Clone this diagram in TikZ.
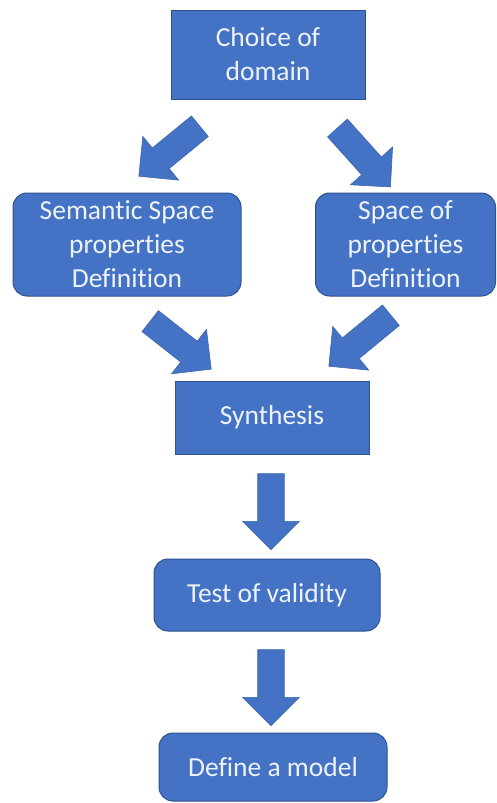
\documentclass[tikz,border=0pt]{standalone}
\usepackage{fontspec}
\setmainfont{Carlito}[Ligatures=NoCommon]
\usetikzlibrary{shapes.arrows,calc}
\definecolor{boxblue}{HTML}{4472C4}
\definecolor{edgeblue}{HTML}{2F528F}
\definecolor{txtcol}{HTML}{EEF3FB}
\newcommand{\blockarrow}[3]{%
  \path let \p1=($(#3)-(#2)$), \n1={atan2(\y1,\x1)}, \n2={veclen(\x1,\y1)} in
    node[barrow, rotate=\n1, minimum height=\n2] (#1) at ($(#2)!0.5!(#3)$) {};}
\begin{document}
\begin{tikzpicture}[x=1pt,y=-1pt,
  box/.style={draw=edgeblue, line width=1pt, fill=boxblue, text=txtcol, align=center,
    inner sep=0pt, font=\fontsize{27.5}{34}\selectfont},
  roundbox/.style={box, rounded corners=14pt},
  barrow/.style={single arrow, draw=boxblue!90!black, line width=0.6pt, fill=boxblue,
    inner xsep=0pt, inner ysep=13pt, single arrow head extend=15pt,
    single arrow head indent=0pt, single arrow tip angle=90, minimum width=1pt}]
\fill[white] (0,0) rectangle (497,803);
\useasboundingbox (0,0) rectangle (497,803);

\node[box, minimum width=194pt, minimum height=89pt] (choice) at (268,54.5) {Choice of\\domain};
\node[roundbox, minimum width=228pt, minimum height=103pt] (sem) at (127,244.5) {Semantic Space\\properties\\Definition};
\node[roundbox, minimum width=180pt, minimum height=103pt] (spa) at (405.5,244.5) {Space of\\properties\\Definition};
\node[box, minimum width=194pt, minimum height=73pt] (syn) at (272,417.5) {Synthesis};
\node[roundbox, minimum width=226pt, minimum height=72pt] (test) at (267,595) {Test of validity};
\node[roundbox, minimum width=228pt, minimum height=68pt] (def) at (273,767) {Define a model};

\coordinate (a1s) at (205,122); \coordinate (a1e) at (144,172);
\coordinate (a2s) at (333,123); \coordinate (a2e) at (386,182);
\coordinate (a3s) at (145,317); \coordinate (a3e) at (206,365);
\coordinate (a4s) at (396,311); \coordinate (a4e) at (334,362);
\coordinate (d1s) at (271,467); \coordinate (d1e) at (271,543);
\coordinate (d2s) at (271,643); \coordinate (d2e) at (271,719);

\blockarrow{arrA}{a1s}{a1e}
\blockarrow{arrB}{a2s}{a2e}
\blockarrow{arrC}{a3s}{a3e}
\blockarrow{arrD}{a4s}{a4e}
\blockarrow{arrE}{d1s}{d1e}
\blockarrow{arrF}{d2s}{d2e}
\end{tikzpicture}
\end{document}
